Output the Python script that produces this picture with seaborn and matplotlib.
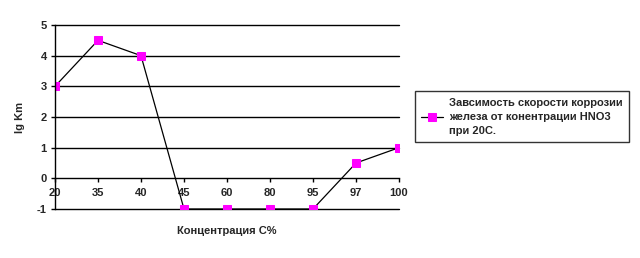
import matplotlib
matplotlib.use("Agg")
import matplotlib.pyplot as plt
import seaborn as sns
import pandas as pd

categories = ["20", "35", "40", "45", "60", "80", "95", "97", "100"]
values = [3, 4.5, 4, -1, -1, -1, -1, 0.5, 1]
series_label = "Завсимость скорости коррозии\nжелеза от конентрации HNO3\nпри 20С."
y_ticks = [-1, 0, 1, 2, 3, 4, 5]

sns.set_theme(style="white")
plt.rcParams['font.family'] = ['Liberation Sans', 'DejaVu Sans']

df = pd.DataFrame({"pos": list(range(len(categories))), "val": values})

fig = plt.figure(figsize=(6.4, 2.58), dpi=100)
ax = fig.add_axes([55/640, 1-209/258, (399-55)/640, (209-25)/258])

sns.lineplot(data=df, x="pos", y="val", ax=ax, color="black", linewidth=0.9,
             marker="s", markersize=5.5, markerfacecolor="#FF00FF",
             markeredgecolor="#FF00FF", label=series_label, legend=False)

ax.set_xlim(0, len(categories)-1)
ax.set_ylim(-1, 5)

for y in y_ticks:
    if y != 0:
        ax.axhline(y, color="black", linewidth=1, clip_on=False, zorder=1)

for s in ["top", "right"]:
    ax.spines[s].set_visible(False)
ax.spines["bottom"].set_position(("data", 0))
ax.spines["bottom"].set_color("black")
ax.spines["bottom"].set_linewidth(1)
ax.spines["left"].set_color("black")
ax.spines["left"].set_linewidth(1)

ax.set_yticks(y_ticks)
ax.set_yticklabels([str(t) for t in y_ticks])
ax.set_xticks(range(len(categories)))
ax.set_xticklabels(categories)
ax.tick_params(axis="y", length=3, width=1, color="black", pad=3, left=True, labelsize=8)
ax.tick_params(axis="x", length=3, width=1, color="black", pad=4, bottom=True,
               direction="out", labelsize=8)
for lab in ax.get_xticklabels() + ax.get_yticklabels():
    lab.set_fontweight("bold")

ax.set_xlabel("")
ax.set_ylabel("")
fig.text(20/640, 1-117/258, "lg Km", rotation=90, ha="center", va="center",
         fontsize=8, fontweight="bold")
fig.text(227/640, 1-231/258, "Концентрация С%", ha="center", va="center",
         fontsize=8, fontweight="bold")

handles, labels = ax.get_legend_handles_labels()
leg = fig.legend(handles, labels, loc="center left",
                 bbox_to_anchor=(409/640, 1-116.5/258), frameon=True, fancybox=False,
                 prop={"weight": "bold", "size": 8}, handlelength=2.0,
                 borderpad=0.6, handletextpad=0.5, labelspacing=0.5)
for t in leg.get_texts():
    t.set_linespacing(1.5)
leg.get_frame().set_edgecolor("black")
leg.get_frame().set_linewidth(1)

fig.savefig("out.png", dpi=100, facecolor="white")
